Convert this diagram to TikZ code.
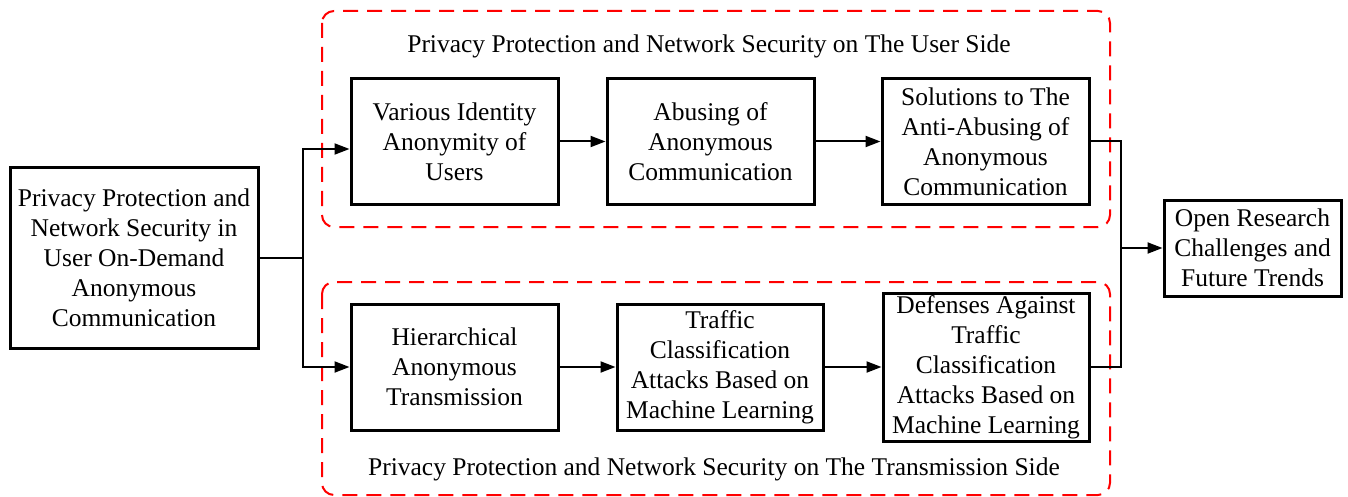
\documentclass[tikz,border=0pt]{standalone}
\usepackage{fontspec}
\setmainfont{Liberation Serif}
\usetikzlibrary{arrows.meta}
\begin{document}
\begin{tikzpicture}[x=1pt,y=-1pt,
  box/.style={draw,line width=3pt,align=center,inner sep=0pt,font=\fontsize{25.5}{30}\selectfont},
  grp/.style={draw=red,line width=2pt,dash pattern=on 15pt off 9pt,rounded corners=12pt},
  lbl/.style={font=\fontsize{25.5}{30}\selectfont,inner sep=0pt},
  conn/.style={line width=2pt},
  arr/.style={line width=2pt,-{Triangle[length=15pt,width=11pt]}}]
\useasboundingbox (0,0) rectangle (1348,497);
% groups
\draw[grp] (322,11) rectangle (1110,227);
\draw[grp] (322,282) rectangle (1110,495);
\node[lbl] (t1) at (709,46) {Privacy Protection and Network Security on The User Side};
\node[lbl] (t2) at (714,469) {Privacy Protection and Network Security on The Transmission Side};
% boxes
\node[box,minimum width=248pt,minimum height=180pt] (main) at (134,258) {Privacy Protection and\\Network Security in\\User On-Demand\\Anonymous\\Communication};
\node[box,minimum width=207pt,minimum height=125pt] (b1) at (454.5,141.5) {Various Identity\\Anonymity of\\Users};
\node[box,minimum width=207pt,minimum height=125pt] (b2) at (710.5,141.5) {Abusing of\\Anonymous\\Communication};
\node[box,minimum width=207pt,minimum height=125pt] (b3) at (985.5,141.5) {Solutions to The\\Anti-Abusing of\\Anonymous\\Communication};
\node[box,minimum width=207pt,minimum height=126pt] (b4) at (454.5,367) {Hierarchical\\Anonymous\\Transmission};
\node[box,minimum width=206pt,minimum height=126pt] (b5) at (720,367) {Traffic\\Classification\\Attacks Based on\\Machine Learning};
\node[box,minimum width=206pt,minimum height=148pt] (b6) at (986,367) {Defenses Against\\Traffic\\Classification\\Attacks Based on\\Machine Learning};
\node[box,minimum width=177pt,minimum height=96pt] (fin) at (1252.5,248) {Open Research\\Challenges and\\Future Trends};
% connectors
\coordinate (jl) at (303,258);
\coordinate (jr) at (1121,248);
\draw[conn] (main.east) -- (jl);
\draw[arr] (jl) |- ([yshift=-7.5pt]b1.west);
\draw[arr] (jl) |- (b4.west);
\draw[arr] (b1) -- (b2);
\draw[arr] (b2) -- (b3);
\draw[arr] (b4) -- (b5);
\draw[arr] (b5) -- (b6);
\draw[conn] (b3.east) -| (jr);
\draw[conn] (b6.east) -| (jr);
\draw[arr] (jr) -- (fin.west);
\end{tikzpicture}
\end{document}
